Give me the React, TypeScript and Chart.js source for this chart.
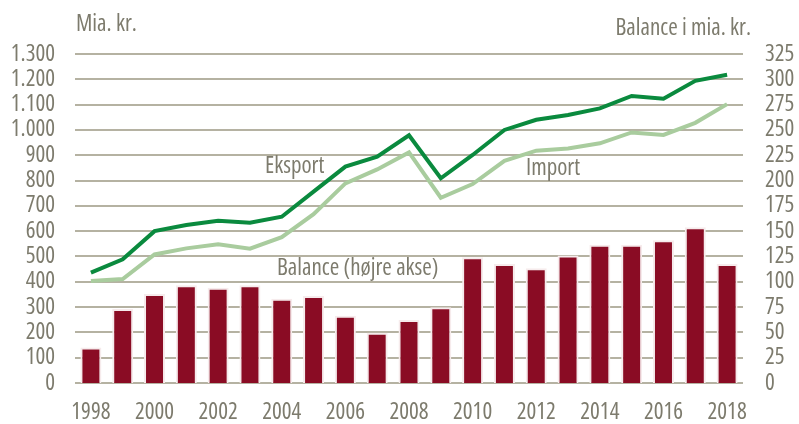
import React, { useEffect, useRef } from "react";
import { Chart, registerables } from "chart.js";

Chart.register(...registerables);

const years = ["1998","1999","2000","2001","2002","2003","2004","2005","2006","2007","2008","2009","2010","2011","2012","2013","2014","2015","2016","2017","2018"];
const eksport = [436, 489, 600, 624, 641, 633, 657, 756, 855, 894, 979, 809, 901, 1000, 1040, 1059, 1085, 1134, 1123, 1194, 1218];
const importData = [403, 411, 508, 532, 548, 531, 576, 667, 789, 844, 911, 732, 786, 878, 918, 927, 947, 990, 980, 1028, 1102];
const balance = [35, 73, 88, 96.5, 94, 96.5, 83.3, 86, 66.5, 49.7, 62.2, 74.8, 124.2, 117.6, 113.3, 126, 136.6, 136.6, 141, 153.8, 117.6];
const leftTicks = [0, 100, 200, 300, 400, 500, 600, 700, 800, 900, 1000, 1100, 1200, 1300];
const rightTicks = [0, 25, 50, 75, 100, 125, 150, 175, 200, 225, 250, 275, 300, 325];

const FAMILY = "'Open Sans', sans-serif";
const SIZE = 23;
const CSSFONT = `condensed ${SIZE}px ${FAMILY}`;
const TEXT = "#7d7b6d";
const GRID = "#b5b2a2";
const tickFont = { family: FAMILY, size: SIZE, style: "normal", weight: "condensed" };

const fmt = (v: number) => v.toString().replace(/\B(?=(\d{3})+(?!\d))/g, ".");

const labelsPlugin = {
  id: "labelsPlugin",
  afterDraw(chart: any) {
    const ctx = chart.ctx;
    ctx.save();
    ctx.fillStyle = TEXT;
    ctx.font = CSSFONT;
    ctx.textBaseline = "middle";
    ctx.textAlign = "left";
    ctx.fillText("Mia. kr.", 76, 24);
    ctx.textAlign = "right";
    ctx.fillText("Balance i mia. kr.", 751, 28);
    ctx.textAlign = "left";
    ctx.fillText("Eksport", 265, 166);
    ctx.fillText("Import", 526, 168);
    ctx.fillText("Balance (højre akse)", 277, 268);
    ctx.restore();
  },
};

export default function App() {
  const ref = useRef<HTMLCanvasElement>(null);
  useEffect(() => {
    document.body.style.margin = "0";
    const chart = new Chart(ref.current!, {
      type: "bar",
      data: {
        labels: years,
        datasets: [
          {
            type: "line",
            label: "Eksport",
            data: eksport,
            yAxisID: "y",
            borderColor: "#0a8a3e",
            borderWidth: 4,
            pointRadius: 0,
            tension: 0,
            order: 1,
          },
          {
            type: "line",
            label: "Import",
            data: importData,
            yAxisID: "y",
            borderColor: "#a9cc9e",
            borderWidth: 4,
            pointRadius: 0,
            tension: 0,
            order: 1,
          },
          {
            type: "bar",
            label: "Balance",
            data: balance,
            yAxisID: "y2",
            backgroundColor: "#8a0c24",
            borderColor: "#f6ebec",
            borderWidth: 2,
            barPercentage: 0.66,
            categoryPercentage: 1,
            order: 2,
          },
        ],
      },
      options: {
        animation: false,
        responsive: false,
        maintainAspectRatio: false,
        layout: { padding: { left: 0, right: 0, top: 54, bottom: 0 } },
        plugins: { legend: { display: false }, tooltip: { enabled: false } },
        scales: {
          x: {
            offset: true,
            grid: { display: false, drawTicks: false },
            border: { display: false },
            ticks: {
              autoSkip: false,
              maxRotation: 0,
              padding: 16,
              color: TEXT,
              font: tickFont,
              callback: (_v: any, i: number) => (i % 2 === 0 ? years[i] : ""),
            },
            afterFit: (s: any) => { s.height = 41; },
          },
          y: {
            position: "left",
            min: 0,
            max: 1300,
            afterBuildTicks: (s: any) => { s.ticks = leftTicks.map((v) => ({ value: v })); },
            grid: { color: GRID, lineWidth: 2, drawTicks: false },
            border: { display: false },
            ticks: {
              autoSkip: false,
              padding: 20,
              color: TEXT,
              font: tickFont,
              callback: (v: any) => fmt(Number(v)),
            },
            afterFit: (s: any) => { s.width = 75; },
          },
          y2: {
            position: "right",
            min: 0,
            max: 325,
            afterBuildTicks: (s: any) => { s.ticks = rightTicks.map((v) => ({ value: v })); },
            grid: { display: false, drawTicks: false },
            border: { display: false },
            ticks: {
              autoSkip: false,
              padding: 22,
              color: TEXT,
              font: tickFont,
            },
            afterFit: (s: any) => { s.width = 56; },
          },
        },
      },
      plugins: [labelsPlugin],
    } as any);
    return () => chart.destroy();
  }, []);
  return (
    <div style={{ position: "absolute", left: 0, top: 0, width: 799, height: 424 }}>
      <canvas ref={ref} width={799} height={424} style={{ width: 799, height: 424 }} />
    </div>
  );
}
